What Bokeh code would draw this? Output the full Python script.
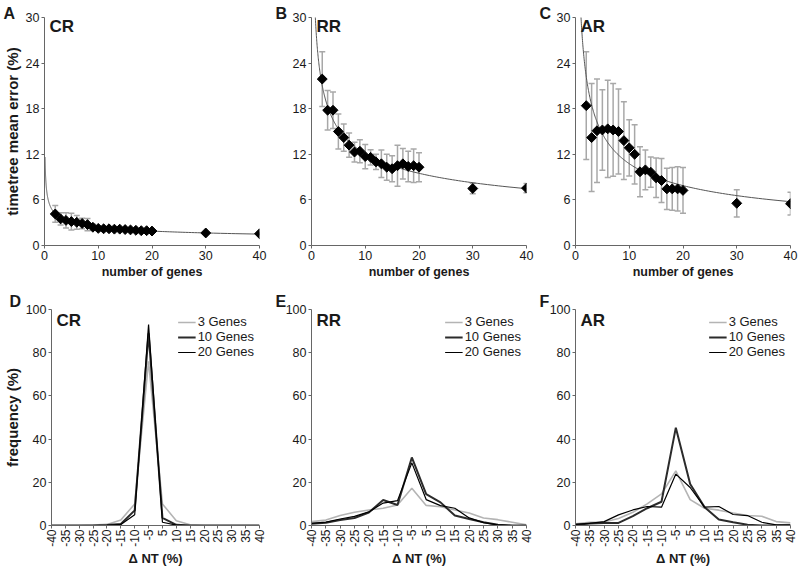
import numpy as np
from bokeh.plotting import figure
from bokeh.models import (Range1d, FixedTicker, Label, Whisker, ColumnDataSource,
                          Legend, LegendItem, TeeHead)
from bokeh.layouts import column, row
from bokeh.embed import file_html
from bokeh.resources import INLINE

# ---------------- data ----------------
genes = [2, 3, 4, 5, 6, 7, 8, 9, 10, 11, 12, 13, 14, 15, 16, 17, 18, 19, 20, 30, 40]
cr_mean = [4.15, 3.5, 3.3, 3.15, 3.05, 2.9, 2.75, 2.4, 2.25, 2.2, 2.2, 2.15, 2.15, 2.1, 2.05, 2.0, 1.95, 1.95, 1.9, 1.65, 1.55]
cr_err = [1.1, 0.8, 1.0, 1.1, 0.9, 0.7, 0.8, 0.4, 0.3, 0.25, 0.2, 0.2, 0.2, 0.2, 0.2, 0.2, 0.2, 0.2, 0.2, 0.15, 0.15]
rr_mean = [21.9, 17.8, 17.8, 15.0, 14.2, 13.2, 12.3, 12.4, 11.7, 11.6, 11.0, 10.75, 10.3, 10.1, 10.5, 10.75, 10.4, 10.5, 10.3, 7.5, 7.55]
rr_err = [3.6, 2.6, 2.4, 2.3, 1.8, 1.6, 1.3, 1.5, 1.6, 1.0, 1.0, 1.8, 1.7, 1.7, 2.7, 2.0, 2.0, 2.2, 1.9, 0.7, 0.6]
ar_mean = [18.4, 14.2, 15.1, 15.2, 15.35, 15.2, 15.0, 13.8, 12.85, 12.0, 9.7, 9.95, 9.65, 8.9, 8.55, 7.45, 7.45, 7.45, 7.25, 5.55, 5.5]
ar_err = [7.1, 7.1, 6.8, 5.3, 6.4, 6.1, 5.6, 5.1, 3.7, 3.9, 3.3, 2.6, 2.0, 2.6, 2.9, 2.7, 2.8, 2.9, 3.0, 1.8, 1.5]

top_xticks = [0, 10, 20, 30, 40]
top_yticks = [0, 6, 12, 18, 24, 30]

delta_labels = ["-40", "-35", "-30", "-25", "-20", "-15", "-10", "-5",
                "5", "10", "15", "20", "25", "30", "35", "40"]
cr_3g = [0, 0, 0, 0.2, 0.5, 2.5, 10, 76, 10, 2.2, 0.3, 0, 0, 0, 0, 0]
cr_10g = [0, 0, 0, 0, 0.2, 0.7, 7, 89, 3.5, 0.3, 0, 0, 0, 0, 0, 0]
cr_20g = [0, 0, 0, 0, 0.1, 0.5, 5, 93, 1.5, 0.2, 0, 0, 0, 0, 0, 0]
rr_3g = [1.8, 2.5, 4.6, 6.1, 7.2, 8.0, 9.5, 17.2, 9.3, 8.7, 7.2, 5.8, 3.5, 2.7, 1.5, 0.3]
rr_10g = [0.8, 1.3, 2.5, 3.5, 6.0, 11.8, 9.5, 31.5, 14.5, 10.7, 4.6, 3.0, 1.5, 0.3, 0, 0]
rr_20g = [1.0, 1.6, 3.0, 4.2, 6.3, 10.4, 11.5, 29.0, 12.0, 9.2, 8.0, 3.5, 1.3, 0.3, 0, 0]
ar_3g = [0.8, 1.5, 1.6, 3.2, 6.1, 10.0, 14.6, 25.3, 12.0, 8.0, 7.1, 5.8, 4.6, 4.3, 1.8, 1.2]
ar_10g = [0.3, 0.9, 1.2, 1.2, 4.3, 8.0, 11.0, 45.3, 19.2, 8.5, 2.8, 1.5, 0.3, 0, 0, 0]
ar_20g = [0.5, 1.0, 1.8, 4.9, 7.2, 8.8, 8.5, 23.8, 17.6, 8.5, 8.8, 5.1, 4.6, 1.5, 0.3, 0.3]
bottom_yticks = [0, 20, 40, 60, 80, 100]
series_names = ["3 Genes", "10 Genes", "20 Genes"]

FONT = "Liberation Sans"
AXIS_COLOR = "#666666"
TEXT_COLOR = "#1a1a1a"


def style_axes(p, xlabel, ylabel):
    p.xgrid.visible = False
    p.ygrid.visible = False
    p.outline_line_color = None
    for ax in (p.xaxis[0], p.yaxis[0]):
        ax.axis_line_color = AXIS_COLOR
        ax.major_tick_line_color = AXIS_COLOR
        ax.minor_tick_line_color = None
        ax.major_tick_in = 0
        ax.major_tick_out = 3
        ax.major_label_text_font = FONT
        ax.major_label_text_font_size = "12.5px"
        ax.major_label_text_color = TEXT_COLOR
        ax.major_label_standoff = 2
        ax.axis_label_text_font = FONT
        ax.axis_label_text_font_style = "bold"
        ax.axis_label_text_font_size = "12.5px"
        ax.axis_label_text_color = TEXT_COLOR
        ax.axis_label_standoff = 2
    p.xaxis[0].axis_label = xlabel
    if ylabel:
        p.yaxis[0].axis_label = ylabel
        p.yaxis[0].axis_label_text_font_size = "15px"


def add_letters(p, letter, name, ytop, letter_dx, letter_standoff, name_dy):
    t = p.title
    t.text = letter
    t.align = "left"
    t.vertical_align = "top"
    t.offset = letter_dx
    t.standoff = letter_standoff
    t.text_font = FONT
    t.text_font_style = "bold"
    t.text_font_size = "16px"
    t.text_color = TEXT_COLOR
    p.add_layout(Label(x=0, y=ytop, x_offset=5, y_offset=name_dy, text=name,
                       text_font=FONT, text_font_style="bold", text_font_size="17px",
                       text_baseline="top", text_color=TEXT_COLOR))


def top_panel(letter, name, mean, err, width, left, right, ylabel, letter_dx):
    p = figure(width=width, height=290, x_range=Range1d(0, 40), y_range=Range1d(0, 30),
               output_backend="svg", toolbar_location=None,
               min_border_left=left, min_border_right=right, min_border_top=17, min_border_bottom=45)
    style_axes(p, "number of genes", ylabel)
    p.xaxis[0].ticker = FixedTicker(ticks=top_xticks)
    p.yaxis[0].ticker = FixedTicker(ticks=top_yticks)

    # power-law trendline fitted (log-log least squares) to the plotted means
    b, loga = np.polyfit(np.log(genes), np.log(mean), 1)
    xs = np.geomspace(0.1, 40, 300)
    p.line(xs, np.exp(loga) * xs ** b, line_color="#555555", line_width=1)

    upper = [m + e for m, e in zip(mean, err)]
    lower = [m - e for m, e in zip(mean, err)]
    src = ColumnDataSource(dict(x=genes, y=mean, upper=upper, lower=lower))
    wh = Whisker(base="x", upper="upper", lower="lower", source=src,
                 line_color="#a8a8a8", line_width=1.5, level="underlay",
                 upper_head=TeeHead(size=6, line_color="#a8a8a8", line_width=1.5),
                 lower_head=TeeHead(size=6, line_color="#a8a8a8", line_width=1.5))
    p.add_layout(wh)
    p.scatter("x", "y", source=src, marker="square", angle=np.pi / 4, size=7,
              fill_color="black", line_color="black")
    add_letters(p, letter, name, 30, letter_dx, -12, 1)
    return p


def bottom_panel(letter, name, s3, s10, s20, width, left, right, ylabel, letter_dx):
    p = figure(width=width, height=278, x_range=Range1d(0, len(delta_labels) - 1),
               y_range=Range1d(0, 100),
               output_backend="svg", toolbar_location=None,
               min_border_left=left, min_border_right=right, min_border_top=19, min_border_bottom=41)
    style_axes(p, "\u0394 NT (%)", ylabel)
    idx = list(range(len(delta_labels)))
    p.xaxis[0].ticker = FixedTicker(ticks=idx)
    p.xaxis[0].major_label_overrides = {i: lab for i, lab in enumerate(delta_labels)}
    p.xaxis[0].major_label_orientation = np.pi / 2
    p.xaxis[0].major_label_text_font_size = "12px"
    p.xaxis[0].major_label_standoff = 1
    p.xaxis[0].axis_label_text_font_size = "13px"
    p.xaxis[0].axis_label_standoff = 1
    p.yaxis[0].ticker = FixedTicker(ticks=bottom_yticks)

    r3 = p.line(idx, s3, line_color="#b4b4b4", line_width=1.6)
    r10 = p.line(idx, s10, line_color="#2b2b2b", line_width=2.0)
    r20 = p.line(idx, s20, line_color="#000000", line_width=1.2)
    leg = Legend(items=[LegendItem(label=series_names[0], renderers=[r3]),
                        LegendItem(label=series_names[1], renderers=[r10]),
                        LegendItem(label=series_names[2], renderers=[r20])],
                 location="top_right", border_line_color=None, background_fill_alpha=0,
                 label_text_font=FONT, label_text_font_size="13px", label_text_color=TEXT_COLOR,
                 glyph_width=18, glyph_height=14, label_height=14, spacing=0, padding=0,
                 margin=5, label_standoff=2)
    p.add_layout(leg)
    add_letters(p, letter, name, 100, letter_dx, -4, -1)
    return p


pA = top_panel("A", "CR", cr_mean, cr_err, 275, 43, 16, "timetree mean error (%)", -41)
pB = top_panel("B", "RR", rr_mean, rr_err, 264, 36, 13, None, -36)
pC = top_panel("C", "AR", ar_mean, ar_err, 261, 36, 10, None, -36)
pD = bottom_panel("D", "CR", cr_3g, cr_10g, cr_20g, 275, 43, 16, "frequency (%)", -42)
pE = bottom_panel("E", "RR", rr_3g, rr_10g, rr_20g, 264, 36, 13, None, -36)
pF = bottom_panel("F", "AR", ar_3g, ar_10g, ar_20g, 261, 36, 10, None, -36)

layout = column(row(pA, pB, pC), row(pD, pE, pF))
open("out.html", "w").write(file_html(layout, INLINE))
